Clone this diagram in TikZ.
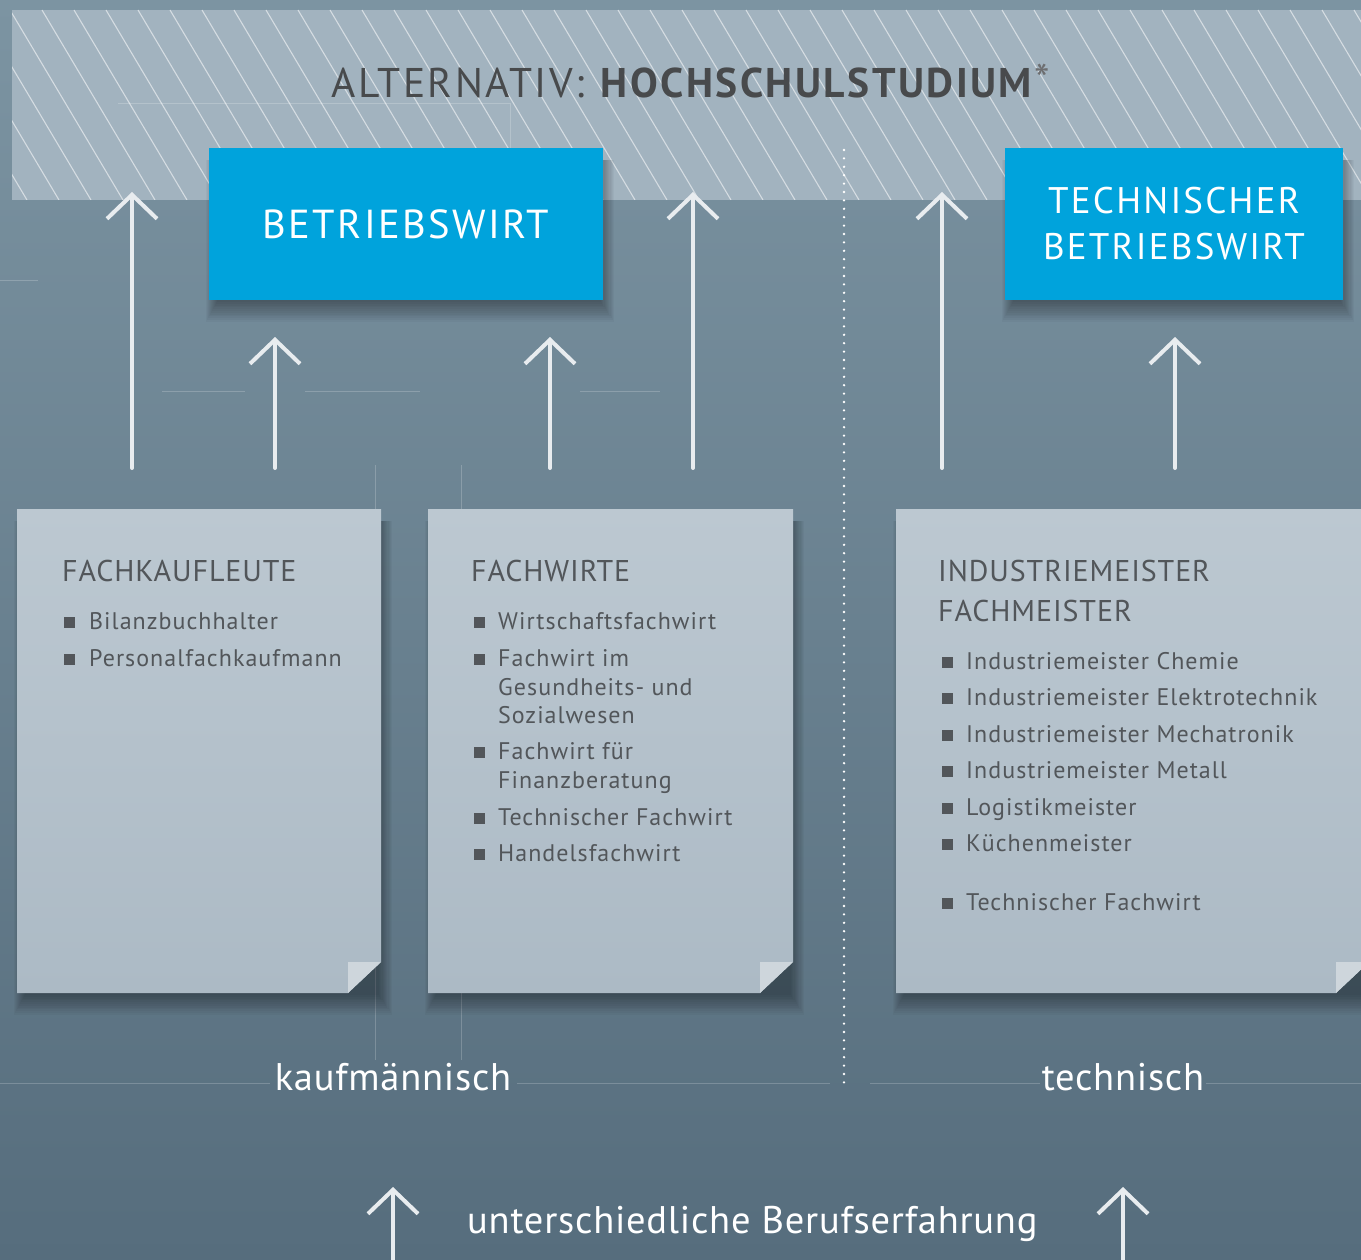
\documentclass[tikz,border=0pt]{standalone}
\usepackage{fontspec}
\setmainfont{PT Sans}
\newfontfamily\spacedfont[LetterSpace=6]{PT Sans}
\newfontfamily\headfont[LetterSpace=3]{PT Sans}
\newfontfamily\itemfont[LetterSpace=4.3]{PT Sans}
\newfontfamily\whitefont[LetterSpace=2]{PT Sans}
\usetikzlibrary{arrows.meta}
\definecolor{bgtop}{RGB}{124,148,162}
\definecolor{bgbot}{RGB}{86,109,125}
\definecolor{bandc}{RGB}{162,179,191}
\definecolor{bwblue}{RGB}{0,163,220}
\definecolor{papertop}{RGB}{188,200,209}
\definecolor{paperbot}{RGB}{172,186,197}
\definecolor{foldc}{RGB}{206,214,220}
\definecolor{papertxt}{RGB}{82,86,90}
\definecolor{titletxt}{RGB}{72,74,76}
\definecolor{chalkc}{RGB}{232,236,239}
\newcommand\bulletsq[2]{\fill[papertxt] (#1,#2-12) rectangle (#1+11,#2-1);}
\newcommand\softshadow[4]{\foreach \i in {0,...,11}{\fill[black,opacity=0.03] (#1+8-\i*1.0,#2+12) rectangle (#3-2+\i*1.2,#4+2+\i*1.8);}}
\begin{document}
\begin{tikzpicture}[x=1pt,y=-1pt,
  chalk/.style={draw=chalkc, line width=4pt, line cap=round, -{Straight Barb[length=24pt,width=50pt,line width=4pt]}},
  bluebox/.style={fill=bwblue, text=white, minimum width=394pt, minimum height=152pt, inner sep=0pt, align=center},
  heading/.style={anchor=base west, text=papertxt, font=\headfont\fontsize{30}{30}\selectfont, inner sep=0pt},
  itemtxt/.style={anchor=base west, text=papertxt, font=\itemfont\fontsize{24}{24}\selectfont, inner sep=0pt},
  bigwhite/.style={text=white, font=\whitefont\fontsize{38.5}{38.5}\selectfont, inner sep=0pt, anchor=base},
  guide/.style={draw=white, opacity=0.2, line width=0.8pt}
]
\useasboundingbox (0,0) rectangle (1361,1260);
\clip (0,0) rectangle (1361,1260);
% background
\shade[top color=bgtop, bottom color=bgbot] (0,0) rectangle (1361,1260);
% hatched band
\fill[bandc] (12,10) rectangle (1361,200);
\begin{scope}
\clip (12,10) rectangle (1361,200);
\foreach \x in {-118,-86,...,1400}{\draw[white,opacity=0.55,line width=1.1pt] (\x,10) -- ++(113,190);}
\end{scope}
% faint guide lines
\draw[guide] (118,103) -- (510,103) -- (510,200);
\draw[guide] (0,280) -- (38,280);
\draw[guide] (162,391) -- (245,391);
\draw[guide] (305,391) -- (420,391);
\draw[guide] (580,391) -- (660,391);
\draw[guide] (375,465) -- (375,1060);
\draw[guide] (461,465) -- (461,1060);
\draw[guide] (0,1083) -- (270,1083);
\draw[guide] (517,1083) -- (830,1083);
\draw[guide] (870,1083) -- (1040,1083);
\draw[guide] (1206,1083) -- (1361,1083);
% title
\node[anchor=base, text=titletxt, font=\spacedfont\fontsize{41.5}{41.5}\selectfont, inner sep=0pt] (title) at (691,98) {ALTERNATIV: \textbf{HOCHSCHULSTUDIUM}\raisebox{2pt}{\fontsize{44}{44}\selectfont\color{titletxt!80!white}*}};
% blue boxes with shadows
\softshadow{209}{148}{603}{300}
\softshadow{1005}{148}{1343}{300}
\node[bluebox, font=\spacedfont\fontsize{40.5}{46}\selectfont] (bw) at (406,224) {BETRIEBSWIRT};
\node[bluebox, minimum width=338pt, font=\spacedfont\fontsize{37}{46}\selectfont] (tbw) at (1174,224) {TECHNISCHER\\BETRIEBSWIRT};
% paper boxes
\softshadow{17}{509}{381}{993}
\softshadow{428}{509}{793}{993}
\softshadow{896}{509}{1369}{993}
\shade[top color=papertop, bottom color=paperbot] (17,509) -- (381,509) -- (381,962) -- (348,993) -- (17,993) -- cycle;
\fill[foldc] (348,962) -- (381,962) -- (348,993) -- cycle;
\shade[top color=papertop, bottom color=paperbot] (428,509) -- (793,509) -- (793,962) -- (760,993) -- (428,993) -- cycle;
\fill[foldc] (760,962) -- (793,962) -- (760,993) -- cycle;
\shade[top color=papertop, bottom color=paperbot] (896,509) -- (1369,509) -- (1369,962) -- (1336,993) -- (896,993) -- cycle;
\fill[foldc] (1336,962) -- (1369,962) -- (1336,993) -- cycle;
% box 1 text
\node[heading] (h1) at (62,581) {FACHKAUFLEUTE};
\bulletsq{64}{629}\node[itemtxt] (i11) at (89,629) {Bilanzbuchhalter};
\bulletsq{64}{666}\node[itemtxt] (i12) at (89,666) {Personalfachkaufmann};
% box 2 text
\node[heading] (h2) at (471,581) {FACHWIRTE};
\bulletsq{474}{629}\node[itemtxt] (i21) at (498,629) {Wirtschaftsfachwirt};
\bulletsq{474}{666}\node[itemtxt] (i22) at (498,666) {Fachwirt im};
\node[itemtxt] (i22b) at (498,695) {Gesundheits- und};
\node[itemtxt] (i22c) at (498,723) {Sozialwesen};
\bulletsq{474}{759}\node[itemtxt] (i23) at (498,759) {Fachwirt für};
\node[itemtxt] (i23b) at (498,788) {Finanzberatung};
\bulletsq{474}{825}\node[itemtxt] (i24) at (498,825) {Technischer Fachwirt};
\bulletsq{474}{861}\node[itemtxt] (i25) at (498,861) {Handelsfachwirt};
% box 3 text
\node[heading] (h3) at (938,581) {INDUSTRIEMEISTER};
\node[heading] (h3b) at (938,621) {FACHMEISTER};
\bulletsq{942}{669}\node[itemtxt] (i31) at (966,669) {Industriemeister Chemie};
\bulletsq{942}{705}\node[itemtxt] (i32) at (966,705) {Industriemeister Elektrotechnik};
\bulletsq{942}{742}\node[itemtxt] (i33) at (966,742) {Industriemeister Mechatronik};
\bulletsq{942}{778}\node[itemtxt] (i34) at (966,778) {Industriemeister Metall};
\bulletsq{942}{815}\node[itemtxt] (i35) at (966,815) {Logistikmeister};
\bulletsq{942}{851}\node[itemtxt] (i36) at (966,851) {Küchenmeister};
\bulletsq{942}{910}\node[itemtxt] (i37) at (966,910) {Technischer Fachwirt};
% dotted divider
\coordinate (dtop) at (844,150);
\coordinate (dbot) at (844,1090);
\draw[white, line width=2.6pt, line cap=round, dash pattern=on 0pt off 8.4pt] (dtop) -- (dbot);
% arrows
\coordinate (a1s) at (132,468); \coordinate (a1e) at (132,192);
\coordinate (a2s) at (275,468); \coordinate (a2e) at (275,337);
\coordinate (a3s) at (550,468); \coordinate (a3e) at (550,337);
\coordinate (a4s) at (693,468); \coordinate (a4e) at (693,192);
\coordinate (a5s) at (942,468); \coordinate (a5e) at (942,192);
\coordinate (a6s) at (1175,468); \coordinate (a6e) at (1175,337);
\coordinate (b1s) at (393,1262); \coordinate (b1e) at (393,1187);
\coordinate (b2s) at (1123,1262); \coordinate (b2e) at (1123,1187);
\draw[chalk] (a1s) -- (a1e);
\draw[chalk] (a2s) -- (a2e);
\draw[chalk] (a3s) -- (a3e);
\draw[chalk] (a4s) -- (a4e);
\draw[chalk] (a5s) -- (a5e);
\draw[chalk] (a6s) -- (a6e);
\draw[chalk] (b1s) -- (b1e);
\draw[chalk] (b2s) -- (b2e);
% bottom labels
\node[bigwhite] (kf) at (393,1090) {kaufmännisch};
\node[bigwhite] (tc) at (1123,1090) {technisch};
\node[bigwhite, anchor=base west] (ub) at (467,1233) {unterschiedliche Berufserfahrung};
\end{tikzpicture}
\end{document}
